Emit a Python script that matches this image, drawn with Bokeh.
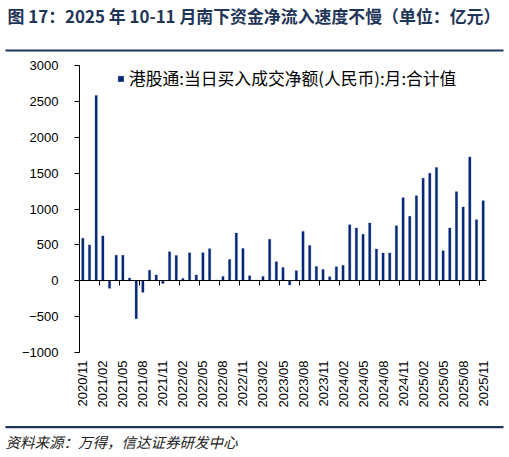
import math
from bokeh.plotting import figure
from bokeh.models import (Range1d, FixedTicker, LinearAxis, Legend, LegendItem,
                          ColumnDataSource)
from bokeh.core.properties import value
from bokeh.embed import file_html
from bokeh.resources import INLINE

# ---------------- data ----------------
title_text = "图 17：2025 年 10-11 月南下资金净流入速度不慢（单位：亿元）"
source_text = "资料来源：万得，信达证券研发中心"
series_name = "港股通:当日买入成交净额(人民币):月:合计值"

tick_labels = ["2020/11", "2021/02", "2021/05", "2021/08", "2021/11",
               "2022/02", "2022/05", "2022/08", "2022/11", "2023/02",
               "2023/05", "2023/08", "2023/11", "2024/02", "2024/05",
               "2024/08", "2024/11", "2025/02", "2025/05", "2025/08",
               "2025/11"]

net_buy = [593, 500, 2583, 625, -106, 356, 356, 37, -528, -162,
           148, 79, -37, 403, 352, 32, 389, 80, 391, 447,
           10, 60, 295, 665, 451, 70, 8, 60, 577, 265,
           186, -58, 140, 688, 493, 200, 158, 56, 195, 215,
           780, 735, 647, 805, 442, 386, 386, 767, 1158, 898,
           1186, 1428, 1498, 1577, 419, 735, 1242, 1028, 1726, 851,
           1116]

y_ticks = [-1000, -500, 0, 500, 1000, 1500, 2000, 2500, 3000]
y_min, y_max = -1000, 3000

NAVY = "#1F3558"
BAR = "#062878"
CJK = "Noto Sans CJK SC"

# ---------------- canvas / chart-area geometry (pixels) ----------------
W, H = 507, 455
FL, FR, FT, FB = 79, 486, 65, 352          # chart area inside the canvas

n = len(net_buy)
x_lo, x_hi = -0.5, n - 0.5
kx = (FR - FL) / (x_hi - x_lo)               # px per category
ky = (FB - FT) / (y_max - y_min)             # px per unit

p = figure(width=W, height=H, x_range=Range1d(0, W), y_range=Range1d(H, 0),
           x_axis_type=None, y_axis_type=None, output_backend="svg",
           toolbar_location=None, min_border=0)
p.outline_line_color = None
p.extra_x_ranges = {"c": Range1d(x_lo - FL / kx, x_hi + (W - FR) / kx)}
p.extra_y_ranges = {"c": Range1d(y_min - (H - FB) / ky, y_max + FT / ky)}

src = ColumnDataSource(dict(x=list(range(n)), v=net_buy))
r = p.vbar(x="x", top="v", bottom=0, width=0.34, source=src,
           x_range_name="c", y_range_name="c",
           fill_color=BAR, line_color=BAR, line_width=0.3)

# ---- x labels at the bottom of the chart area ----
label_ticks = list(range(0, n, 3))
lab_axis = LinearAxis(x_range_name="c", y_range_name="c", fixed_location=y_min,
                      bounds=(x_lo, x_hi), ticker=FixedTicker(ticks=label_ticks))
lab_axis.major_label_overrides = {t: lab for t, lab in zip(label_ticks, tick_labels)}
lab_axis.major_label_orientation = math.pi / 2
lab_axis.axis_line_color = None
lab_axis.major_tick_line_color = None
lab_axis.minor_tick_line_color = None
lab_axis.major_tick_out = 0
lab_axis.major_tick_in = 0
lab_axis.major_label_standoff = 8
lab_axis.major_label_text_font = "Liberation Sans"
lab_axis.major_label_text_font_size = "13px"
lab_axis.major_label_text_color = "#000000"
p.add_layout(lab_axis, "below")

# ---- zero line with separator ticks ----
zero_axis = LinearAxis(x_range_name="c", y_range_name="c", fixed_location=0,
                       bounds=(x_lo, x_hi),
                       ticker=FixedTicker(ticks=[-10],
                                          minor_ticks=[t + 2.5 for t in label_ticks[:-1]]))
zero_axis.axis_line_color = "#000000"
zero_axis.axis_line_width = 1
zero_axis.major_tick_line_color = None
zero_axis.minor_tick_line_color = "#000000"
zero_axis.minor_tick_out = 5
zero_axis.minor_tick_in = 0
zero_axis.major_label_text_font_size = "0px"
zero_axis.major_label_text_color = None
p.add_layout(zero_axis, "below")

# ---- y axis ----
y_axis = LinearAxis(x_range_name="c", y_range_name="c", fixed_location=x_lo,
                    bounds=(y_min, y_max), ticker=FixedTicker(ticks=y_ticks))
y_axis.axis_line_color = "#000000"
y_axis.major_tick_line_color = "#000000"
y_axis.major_tick_out = 5
y_axis.major_tick_in = 0
y_axis.minor_tick_line_color = None
y_axis.major_label_standoff = 16
y_axis.major_label_text_font = "Liberation Sans"
y_axis.major_label_text_font_size = "13px"
y_axis.major_label_text_color = "#000000"
p.add_layout(y_axis, "left")

# ---- legend ----
legend = Legend(items=[LegendItem(label=series_name, renderers=[r])],
                location=(117, H - 90), orientation="horizontal")
legend.glyph_width = 7
legend.glyph_height = 7
legend.label_standoff = 5
legend.label_text_font = CJK
legend.label_text_font_size = "16.8px"
legend.label_text_color = "#000000"
legend.label_height = 20
legend.padding = 0
legend.margin = 0
legend.border_line_color = None
legend.background_fill_alpha = 0
p.add_layout(legend, "center")

# ---- title, rules, source (pixel coordinates of the canvas) ----
p.text(x=[7], y=[15], text=[title_text], text_font=value(CJK),
       text_font_size="16.9px", text_font_style="bold", text_color=NAVY,
       text_baseline="middle", text_align="left")
p.segment(x0=[5, 5], y0=[50, 426.7], x1=[503, 503], y1=[50, 426.7],
          line_color=NAVY, line_width=2.2)
p.text(x=[5], y=[441], text=[source_text], text_font=value(CJK),
       text_font_size="14.5px", text_font_style="italic", text_color="#222222",
       text_baseline="middle", text_align="left")

open("out.html", "w").write(file_html(p, INLINE))
